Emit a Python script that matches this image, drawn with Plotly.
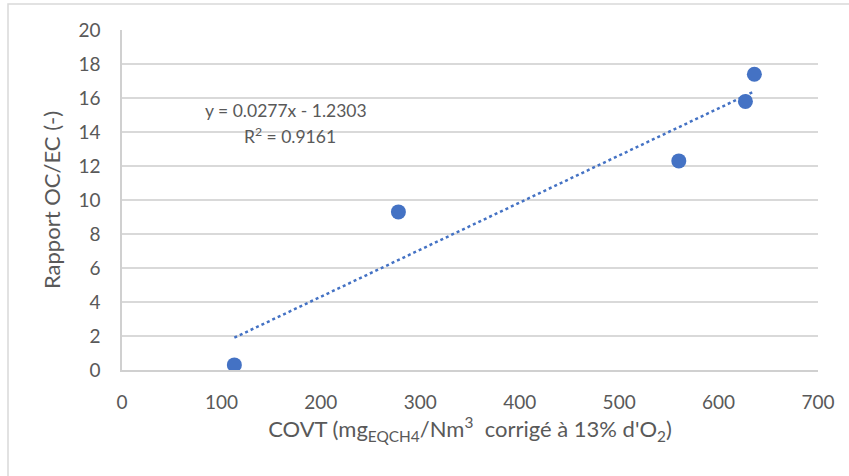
import plotly.graph_objects as go

covt = [113, 278, 560, 627, 636]
ratio = [0.3, 9.3, 12.3, 15.8, 17.4]
slope = 0.0277
intercept = -1.2303
r2 = 0.9161
x_ticks = [0, 100, 200, 300, 400, 500, 600, 700]
y_ticks = [0, 2, 4, 6, 8, 10, 12, 14, 16, 18, 20]

blue = "#4472C4"
font = "Lato, 'Open Sans', sans-serif"

trend_x = [min(covt), max(covt)]
trend_y = [slope * v + intercept for v in trend_x]

fig = go.Figure()
fig.add_trace(go.Scatter(x=trend_x, y=trend_y, mode="lines",
                         line=dict(color=blue, width=2.5, dash="dot"),
                         hoverinfo="skip", showlegend=False))
fig.add_trace(go.Scatter(x=covt, y=ratio, mode="markers",
                         marker=dict(color=blue, size=15),
                         showlegend=False))

fig.update_layout(
    width=849, height=476,
    margin=dict(l=122, r=31, t=30, b=106),
    paper_bgcolor="white", plot_bgcolor="white",
    font=dict(family=font, color="#595959"),
    xaxis=dict(range=[0, 700], tickvals=x_ticks, showgrid=False,
               showline=True, linecolor="#D0D0D0", linewidth=1.5,
               zeroline=False, ticks="", tickfont=dict(size=19),
               ticklabelstandoff=14,
               title=dict(text="COVT (mg<sub>EQCH4</sub>/Nm<sup>3</sup>  corrigé à 13% d'O<sub>2</sub>)",
                          font=dict(size=22), standoff=10)),
    yaxis=dict(range=[0, 20], tickvals=y_ticks, showgrid=True,
               gridcolor="#D9D9D9", gridwidth=1.5,
               showline=True, linecolor="#D0D0D0", linewidth=1.5,
               zeroline=False, ticks="", tickfont=dict(size=19),
               ticklabelstandoff=16,
               title=dict(text="Rapport OC/EC (-)", font=dict(size=22), standoff=12)),
    shapes=[dict(type="rect", xref="paper", yref="paper",
                 x0=-0.1638, x1=1.2, y0=-0.5, y1=1.0765,
                 line=dict(color="#D9D9D9", width=1.5))],
    annotations=[
        dict(x=165, y=15.29, xref="x", yref="y", showarrow=False,
             text=f"y = {slope}x - {abs(intercept)}",
             font=dict(size=17.5, color="#595959")),
        dict(x=169, y=13.82, xref="x", yref="y", showarrow=False,
             text=f"R<sup>2</sup> = {r2}",
             font=dict(size=17.5, color="#595959")),
    ],
)

fig.write_html("out.html", config={"displayModeBar": False},
               post_script="document.body.style.margin='0';")
